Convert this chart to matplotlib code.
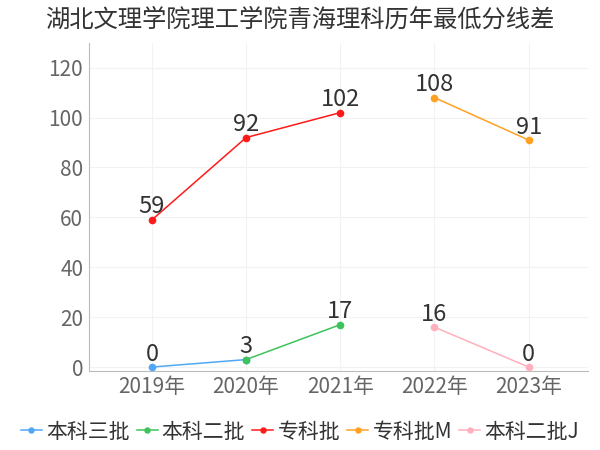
import matplotlib.pyplot as plt

plt.rcParams['font.family'] = ['Noto Sans CJK SC', 'DejaVu Sans']

years = ['2019年', '2020年', '2021年', '2022年', '2023年']
# series: name, x indices, values, colour
names = ['本科三批', '本科二批', '专科批', '专科批M', '本科二批J']
xs = [[0, 1], [1, 2], [0, 1, 2], [3, 4], [3, 4]]
vals = [[0, 3], [3, 17], [59, 92, 102], [108, 91], [16, 0]]
colors = ['#4fa8f5', '#3cc35a', '#ff1a1a', '#ffa022', '#ffb0bc']

fig = plt.figure(figsize=(6, 4.5), dpi=100)
ax = fig.add_axes([0.148, 0.176, 0.832, 0.729])

done = set()
for name, x, v, c in zip(names, xs, vals, colors):
    ax.plot(x, v, color=c, lw=1.1, marker='o', ms=4.5, label=name, zorder=3)
    for xi, vi in zip(x, v):
        if (xi, vi) in done:
            continue
        done.add((xi, vi))
        ax.text(xi, vi + 0.6, str(vi), ha='center', va='bottom',
                fontsize=17, color='#333333', zorder=4)

ax.set_xlim(-0.67, 4.63)
ax.set_ylim(-1.5, 130)
ax.set_xticks(range(len(years)))
ax.set_xticklabels(years)
ax.set_yticks(range(0, 121, 20))
ax.tick_params(length=0, labelsize=15, colors='#666666', pad=4)
ax.grid(True, color='#f2f2f2', lw=0.8)
ax.set_axisbelow(True)
for s in ['top', 'right']:
    ax.spines[s].set_visible(False)
for s in ['left', 'bottom']:
    ax.spines[s].set_color('#bbbbbb')

fig.suptitle('湖北文理学院理工学院青海理科历年最低分线差', fontsize=17.5,
             color='#333333', x=0.5, y=0.985, va='top')

fig.legend(loc='lower center', ncol=5, frameon=False, fontsize=15,
           bbox_to_anchor=(0.5, -0.025), handlelength=1.0, handletextpad=0.2,
           columnspacing=0.35, labelcolor='#333333', markerscale=0.8)

fig.savefig('out.png', dpi=100)
